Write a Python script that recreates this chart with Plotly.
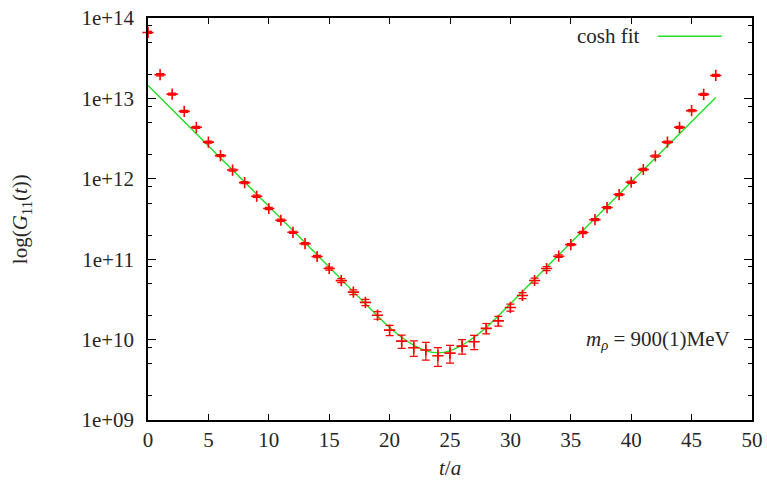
import plotly.graph_objects as go

# ---- data ----
t_vals = list(range(48))
g11 = [6.61e13, 1.97e13, 1.13e13, 6.90e12, 4.37e12, 2.86e12, 1.94e12, 1.285e12,
       8.97e11, 6.07e11, 4.27e11, 3.05e11, 2.16e11, 1.56e11, 1.08e11, 7.66e10,
       5.41e10, 3.89e10, 2.90e10, 2.01e10, 1.31e10, 9.57e9, 7.91e9, 7.41e9,
       6.30e9, 6.79e9, 8.30e9, 9.40e9, 1.38e10, 1.71e10, 2.51e10, 3.54e10,
       5.43e10, 7.66e10, 1.09e11, 1.52e11, 2.15e11, 3.11e11, 4.39e11, 6.37e11,
       9.06e11, 1.306e12, 1.92e12, 2.86e12, 4.37e12, 7.03e12, 1.122e13, 1.93e13]
g11_err = [1.9e12, 5.9e11, 3.4e11, 2.1e11, 1.3e11, 8.6e10, 5.8e10, 3.9e10,
           2.7e10, 1.8e10, 1.3e10, 9.2e9, 6.5e9, 4.7e9, 3.8e9, 3.3e9,
           3.1e9, 2.7e9, 2.6e9, 2.2e9, 1.9e9, 1.8e9, 1.74e9, 1.85e9,
           1.65e9, 1.7e9, 1.7e9, 1.9e9, 2.05e9, 2.35e9, 2.5e9, 3.0e9,
           3.8e9, 4.4e9, 3.9e9, 4.6e9, 6.5e9, 9.3e9, 1.3e10, 1.9e10,
           2.7e10, 3.9e10, 5.8e10, 8.6e10, 1.3e11, 2.1e11, 3.4e11, 5.8e11]

fit_t = [0, 4, 8, 12, 16, 18, 20, 21, 22, 23, 24, 25, 26, 27, 28, 30, 32, 36, 40, 44, 47]
fit_g = [1.449e13, 3.63e12, 9.10e11, 2.275e11, 5.62e10, 2.79e10, 1.41e10, 1.07e10,
         8.51e9, 7.24e9, 6.84e9, 7.24e9, 8.51e9, 1.07e10, 1.41e10, 2.79e10,
         5.62e10, 2.275e11, 9.10e11, 3.63e12, 1.026e13]

y_major = [1e9, 1e10, 1e11, 1e12, 1e13, 1e14]
y_major_text = ["1e+09", "1e+10", "1e+11", "1e+12", "1e+13", "1e+14"]
y_minor = [m * 10.0 ** e for e in range(9, 14) for m in (2, 5, 8)]

FONT = "Liberation Serif"
TXT = "#262626"
FS = 21

fig = go.Figure()
fig.add_trace(go.Scatter(
    x=fit_t, y=fit_g, mode="lines", line=dict(color="#22e022", width=1.4, shape="spline"),
    showlegend=False, hoverinfo="skip"))
fig.add_trace(go.Scatter(
    x=t_vals, y=g11, mode="markers",
    marker=dict(symbol="cross-thin", size=8, line=dict(color="#ff0000", width=1.6), color="#ff0000"),
    error_y=dict(type="data", array=g11_err, color="#ff0000", thickness=1.2, width=4),
    cliponaxis=False, showlegend=False))

fig.update_layout(
    width=767, height=488,
    margin=dict(l=148, r=15, t=18, b=68),
    paper_bgcolor="white", plot_bgcolor="white",
    showlegend=False,
    font=dict(family=FONT, size=FS, color=TXT),
    xaxis=dict(range=[0, 50], dtick=5, tick0=0, showgrid=False, zeroline=False,
               automargin=False,
               showline=True, linecolor="black", linewidth=1.5, mirror="allticks",
               ticks="inside", ticklen=6, tickwidth=1, tickcolor="black",
               tickfont=dict(family=FONT, size=FS, color=TXT)),
    yaxis=dict(type="log", range=[9, 14], tickmode="array", tickvals=y_major,
               ticktext=y_major_text, showgrid=False, zeroline=False,
               automargin=False,
               showline=True, linecolor="black", linewidth=1.5, mirror="allticks",
               ticks="inside", ticklen=8, tickwidth=1, tickcolor="black",
               ticklabelstandoff=8,
               tickfont=dict(family=FONT, size=FS, color=TXT),
               minor=dict(tickmode="array", tickvals=y_minor, ticks="inside",
                          ticklen=4, tickwidth=1, tickcolor="black")),
)

fig.add_annotation(text="log(<i>G</i><sub>11</sub>(<i>t</i>))", xref="paper", yref="paper",
                   x=-0.21, y=0.5, textangle=-90, showarrow=False,
                   xanchor="center", yanchor="middle", font=dict(size=FS))
fig.add_annotation(text="<i>t</i>/<i>a</i>", xref="paper", yref="paper",
                   x=0.5, y=-0.119, showarrow=False, xanchor="center", yanchor="middle",
                   font=dict(size=FS))
fig.add_annotation(text="cosh fit", xref="paper", yref="paper",
                   x=0.818, y=0.955, showarrow=False, xanchor="right", yanchor="middle",
                   font=dict(size=FS))
fig.add_shape(type="line", xref="paper", yref="paper", x0=0.844, x1=0.950, y0=0.9545, y1=0.9545,
              line=dict(color="#22e022", width=1.4))
fig.add_annotation(text="<i>m</i><sub><i>ρ</i></sub> = 900(1)MeV", xref="paper", yref="paper",
                   x=0.967, y=0.199, showarrow=False, xanchor="right", yanchor="middle",
                   font=dict(size=FS))

fig.write_html("out.html")
